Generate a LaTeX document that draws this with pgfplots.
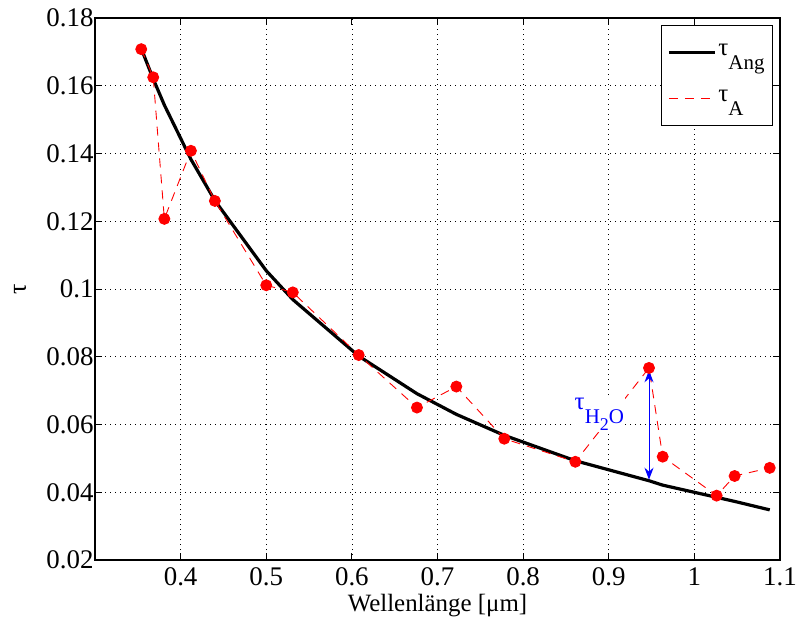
\documentclass[border=0pt]{standalone}
\usepackage{fontspec}
\setmainfont{Liberation Serif}
\usepackage{pgfplots}
\pgfplotsset{compat=1.18}
\usetikzlibrary{arrows.meta}
\newcommand{\lsub}[1]{\raisebox{-0.55em}{\fontsize{21}{21}\selectfont #1}}
\newcommand{\ssub}[1]{\raisebox{-0.35em}{\fontsize{18}{18}\selectfont #1}}
\begin{document}
\begin{tikzpicture}
\begin{axis}[
  scale only axis, width=685bp, height=542bp,
  xmin=0.3, xmax=1.1, ymin=0.02, ymax=0.18,
  xtick={0.4,0.5,0.6,0.7,0.8,0.9,1,1.1},
  xticklabels={0.4,0.5,0.6,0.7,0.8,0.9,1,1.1},
  ytick={0.02,0.04,0.06,0.08,0.1,0.12,0.14,0.16,0.18},
  yticklabels={0.02,0.04,0.06,0.08,0.1,0.12,0.14,0.16,0.18},
  tick label style={font=\fontsize{27}{27}\selectfont},
  xticklabel style={yshift=-4bp},
  yticklabel style={xshift=2bp},
  /pgf/number format/assume math mode=true,
  tick align=inside, tick pos=both, major tick length=7bp,
  tick style={black, line width=0.8bp},
  axis line style={line width=1.2bp},
  grid=major,
  major grid style={black, line width=0.6bp, dash pattern=on 0.8bp off 4.2bp},
  legend style={at={(1,1)}, anchor=north east, xshift=-7bp, yshift=-7bp,
    draw=black, line width=1bp, font=\fontsize{25}{25}\selectfont,
    row sep=12bp, inner xsep=6bp, inner ysep=10bp,
    nodes={text height=18bp, text depth=12bp}},
  legend cell align=left,
  legend image code/.code={\draw[mark repeat=2,mark phase=2,#1] (0bp,0bp) -- (23bp,0bp) -- (46bp,0bp);},
]
\addplot[black, line width=3.2bp] coordinates {
(0.354,0.1710) (0.368,0.1620) (0.381,0.1543) (0.412,0.1383) (0.440,0.1261)
(0.500,0.1054) (0.531,0.0969) (0.608,0.0802) (0.676,0.0691) (0.722,0.0630)
(0.778,0.0568) (0.861,0.0493) (0.947,0.0434) (0.963,0.0421) (1.026,0.0385)
(1.047,0.0373) (1.088,0.0348)
};
\addlegendentry{τ\lsub{Ang}}
\addplot[red, line width=0.9bp, dash pattern=on 9bp off 7bp, mark=*, mark size=5.5bp,
  mark options={solid, fill=red, draw=red}] coordinates {
(0.354,0.1708) (0.368,0.1625) (0.381,0.1207) (0.412,0.1408) (0.440,0.1260)
(0.500,0.1011) (0.531,0.0990) (0.608,0.0805) (0.676,0.0650) (0.722,0.0712)
(0.778,0.0558) (0.861,0.0490) (0.947,0.0767) (0.963,0.0505) (1.026,0.0390)
(1.047,0.0448) (1.088,0.0472)
};
\addlegendentry{τ\lsub{A}}
\node[blue, fill=white, inner sep=1bp, font=\fontsize{25}{25}\selectfont]
  at (axis cs:0.889,0.0630) {τ\lsub{H\ssub{2}O}};
\draw[blue, line width=1bp, {Stealth[length=12bp,width=9bp]}-{Stealth[length=12bp,width=9bp]}]
  (axis cs:0.947,0.0760) -- (axis cs:0.947,0.0437);
\coordinate (bl) at (rel axis cs:0,0);
\coordinate (tr) at (rel axis cs:1,1);
\coordinate (ml) at (rel axis cs:0,0.5);
\coordinate (mb) at (rel axis cs:0.5,0);
\end{axis}
\node[rotate=90, font=\fontsize{26}{26}\selectfont] at ([xshift=-75bp]ml) {τ};
\node[font=\fontsize{25}{25}\selectfont] at ([yshift=-46bp]mb) {Wellenlänge [μm]};
\pgfresetboundingbox
\path ([xshift=-95bp,yshift=-65bp]bl) rectangle ([xshift=18bp,yshift=18bp]tr);
\end{tikzpicture}
\end{document}
